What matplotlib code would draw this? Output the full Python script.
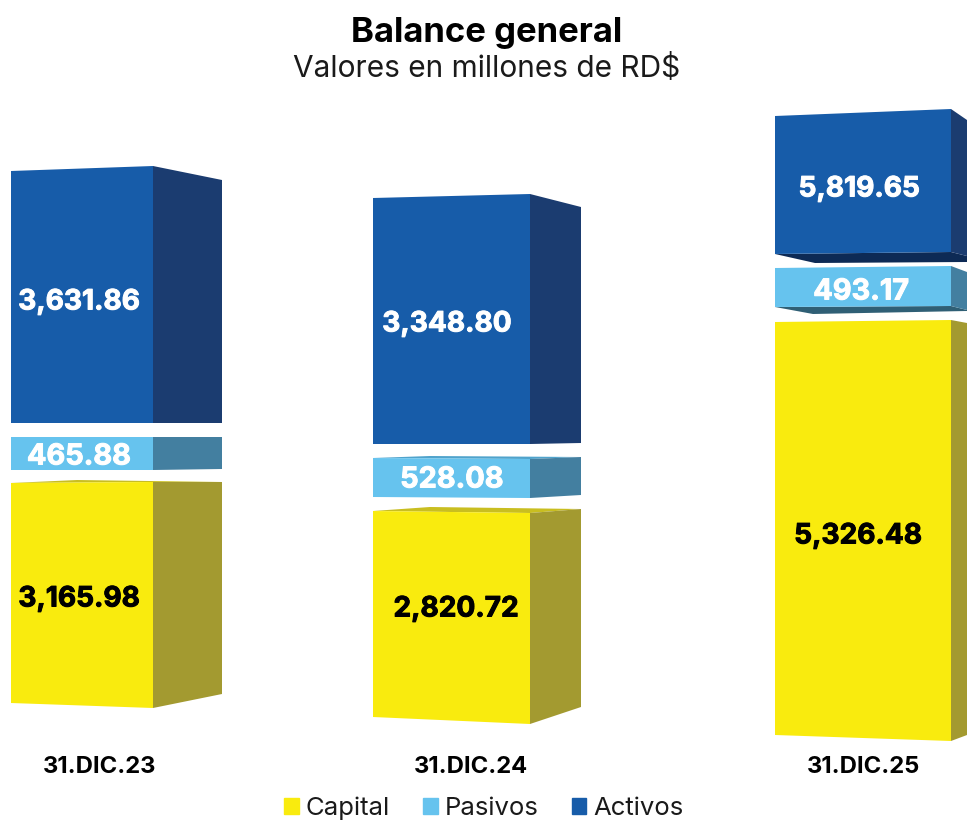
import matplotlib
matplotlib.use("Agg")
import matplotlib.pyplot as plt
import matplotlib.patheffects as pe
from matplotlib.patches import Patch, Polygon

# datos
fechas = ["31.DIC.23", "31.DIC.24", "31.DIC.25"]
capital = [3165.98, 2820.72, 5326.48]
pasivos = [465.88, 528.08, 493.17]
activos = [3631.86, 3348.80, 5819.65]

# altura dibujada de cada bloque (no va a escala con los valores)
alto_capital = [226, 211, 421]
alto_pasivos = [33, 39, 40]
alto_activos = [257, 250, 143]

# geometria
base = [708, 724, 741]
hueco_cp = [12, 15, 14]
hueco_pa = [14, 15, 14]
x_izq = [11, 373, 775]
x_med = [153, 530, 951]
x_der = [222, 581, 967]

# desplazamientos: sup. izq, sup. lado, inf. izq, inf. lado
pers_capital = [(1, 0, -5, -14), (-2, -4, -7, -17), (2, 3, -6, -6)]
pers_pasivos = [(0, 0, 0, -1), (-1, -2, -1, -3), (2, 6, 1, 4)]
pers_activos = [(5, 14, 0, 0), (4, 13, 0, -1), (7, 11, 2, 4)]

# color frontal, color lateral
c_capital = ("#F9EB0E", "#A39A30")
c_pasivos = ("#66C3EE", "#437FA0")
c_activos = ("#175CA9", "#1B3C70")

plt.rcParams["font.family"] = ["Inter", "DejaVu Sans"]

fig = plt.figure(figsize=(9.67, 8.21), dpi=100)
ax = fig.add_axes([0, 0, 1, 1])
ax.set_xlim(0, 967)
ax.set_ylim(821, 0)
ax.axis("off")


def bloque(i, sup, alto, pers, colores, zorder=2):
    inf = sup + alto
    x0, x1, x2 = x_izq[i], x_med[i], x_der[i]
    s_izq, s_lado, i_izq, i_lado = pers
    frente = Polygon([(x0, sup + s_izq), (x1, sup), (x1, inf), (x0, inf + i_izq)],
                     transform=ax.transData)
    barra = ax.bar(x0, alto + 8, width=x1 - x0, bottom=sup - 4, align="edge",
                   color=colores[0], zorder=zorder)[0]
    barra.set_clip_path(frente)
    ax.fill([x1, x2, x2, x1], [sup, sup + s_lado, inf + i_lado, inf],
            color=colores[1], lw=0, zorder=zorder)


# bloques apilados desde la base
for i in range(3):
    sup_c = base[i] - alto_capital[i]
    sup_p = sup_c - hueco_cp[i] - alto_pasivos[i]
    sup_a = sup_p - hueco_pa[i] - alto_activos[i]
    bloque(i, sup_c, alto_capital[i], pers_capital[i], c_capital)
    bloque(i, sup_p, alto_pasivos[i], pers_pasivos[i], c_pasivos)
    bloque(i, sup_a, alto_activos[i], pers_activos[i], c_activos)

    if i == 2:
        # caras inferiores del ultimo bloque
        inf_a = sup_a + alto_activos[i]
        inf_p = sup_p + alto_pasivos[i]
        ax.fill([x_izq[i], 815, x_der[i], x_der[i], x_med[i]],
                [inf_a + 2, inf_a + 11, inf_a + 10, inf_a + 4, inf_a],
                color="#0D2A55", lw=0, zorder=1)
        ax.fill([x_izq[i], 813, x_der[i], x_der[i], x_med[i]],
                [inf_p + 1, inf_p + 8, inf_p + 5, inf_p + 4, inf_p],
                color="#2F5F75", lw=0, zorder=1)

# caras superiores que asoman
ax.fill([11, 77, 222, 153], [483, 480, 482, 482], color="#C9BE20", lw=0, zorder=1)
ax.fill([373, 430, 581, 530], [511, 507, 509, 513], color="#C9BE20", lw=0, zorder=1)
ax.fill([373, 430, 581, 530], [458, 456, 457, 459], color="#4FA3CC", lw=0, zorder=1)

# etiquetas de valores
pos_capital = [(79, 599), (456, 609), (858, 536)]
pos_pasivos = [(79, 457), (452, 480), (861, 292)]
pos_activos = [(79, 302), (447, 324), (859, 189)]

for i in range(3):
    ax.text(*pos_capital[i], f"{capital[i]:,.2f}", color="black", fontsize=20.2,
            fontweight="bold", ha="center", va="center", zorder=5,
            path_effects=[pe.withStroke(linewidth=0.7, foreground="black")])
    ax.text(*pos_pasivos[i], f"{pasivos[i]:,.2f}", color="white", fontsize=20.8,
            fontweight="bold", ha="center", va="center", zorder=5,
            path_effects=[pe.withStroke(linewidth=0.7, foreground="white")])
    ax.text(*pos_activos[i], f"{activos[i]:,.2f}", color="white", fontsize=20.2,
            fontweight="bold", ha="center", va="center", zorder=5,
            path_effects=[pe.withStroke(linewidth=0.7, foreground="white")])

x_fechas = [100, 471, 864]
for x, f in zip(x_fechas, fechas):
    ax.text(x, 767, f, color="black", fontsize=17.2, fontweight="bold",
            ha="center", va="center")

ax.text(487, 33, "Balance general", color="black", fontsize=25,
        fontweight="bold", ha="center", va="center")
ax.text(487, 68, "Valores en millones de RD$", color="#1a1a1a", fontsize=21.5,
        ha="center", va="center")

handles = [Patch(color=c_capital[0], label="Capital"),
           Patch(color=c_pasivos[0], label="Pasivos"),
           Patch(color=c_activos[0], label="Activos")]
ax.legend(handles=handles, ncol=3, frameon=False, fontsize=18.5,
          loc="center", bbox_to_anchor=(484, 808), bbox_transform=ax.transData,
          handlelength=0.55, handleheight=0.6, handletextpad=0.28,
          columnspacing=1.3, labelcolor="#1a1a1a", borderpad=0, borderaxespad=0)

fig.savefig("out.png", dpi=100)
